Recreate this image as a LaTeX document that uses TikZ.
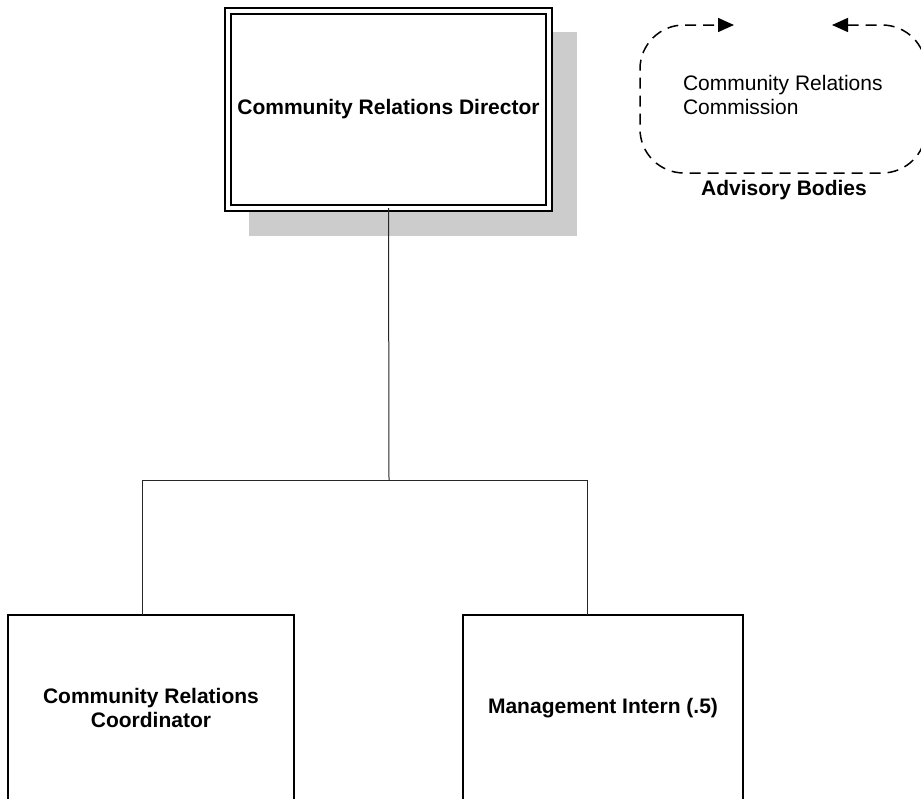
\documentclass[tikz,border=0pt]{standalone}
\usepackage{fontspec}
\setmainfont{Liberation Sans}
\usetikzlibrary{arrows.meta}
\begin{document}
\begin{tikzpicture}[x=1pt,y=-1pt,
  every node/.style={inner sep=0pt,outer sep=0pt},
  txt/.style={font=\fontsize{21}{24}\selectfont},
  boldtxt/.style={font=\fontsize{21}{24}\selectfont\bfseries},
  posbox/.style={draw=black,line width=1.5pt,fill=white,rectangle,align=center,boldtxt},
  conn/.style={draw=black!85,line width=1pt},
  shadowbox/.style={fill=black!20},
  advisory/.style={draw=black,line width=1.5pt,dash pattern=on 11pt off 7pt,rounded corners=44pt}
]
\useasboundingbox (0,0) rectangle (921,798);
\clip (0,0) rectangle (921,798);
% shadow
\fill[shadowbox] (249,32) rectangle (577,236);
% director
\node[posbox,double,double distance=4.5pt,minimum width=321pt,minimum height=197pt] (director) at (388.5,109.5) {Community Relations Director};
% lower boxes
\node[posbox,minimum width=286pt,minimum height=186pt,anchor=north] (coord) at (151,615) {Community Relations\\Coordinator};
\node[posbox,minimum width=280pt,minimum height=186pt,anchor=north] (intern) at (603,615) {Management Intern (.5)};
% connectors
\coordinate (bus) at (389,480);
\draw[conn] (director.south) -- (bus);
\draw[conn] (bus) -| ([xshift=-9pt]coord.north);
\draw[conn] (bus) -| ([xshift=-16pt]intern.north);
% advisory bodies
\node[txt,align=left,anchor=west] (commission) at (683,95) {Community Relations\\Commission};
\node[boldtxt] (advlabel) at (784,190) {Advisory Bodies};
\coordinate (arrR) at (734,25);
\coordinate (arrL) at (832,25);
\draw[advisory,{Triangle[length=16pt,width=14pt]}-{Triangle[length=16pt,width=14pt]}]
  (arrL) -- (926,25) -- (926,173) -- (640,173) -- (640,25) -- (arrR);
\end{tikzpicture}
\end{document}
